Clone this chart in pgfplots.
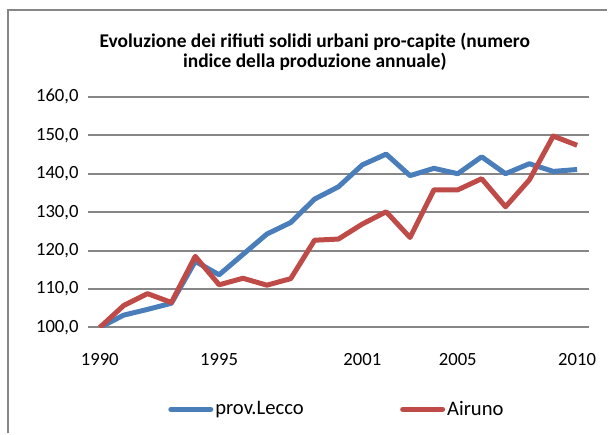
\documentclass[border=0pt]{standalone}
\usepackage{fontspec}
\setmainfont{Carlito}
\usepackage{pgfplots}
\pgfplotsset{compat=1.18}
\definecolor{exblue}{HTML}{4A7EBB}
\definecolor{exred}{HTML}{BE4B48}
\definecolor{gridgray}{HTML}{868686}
\begin{document}
\begin{tikzpicture}
\path (0,0) rectangle (456pt,325.5pt);
\draw[gridgray, line width=1.5pt] (6pt,0) -- (6pt,318pt) -- (456pt,318pt);
\node[font=\bfseries\fontsize{14.6}{15}\selectfont, align=center] at (236.5pt,286.5pt) {Evoluzione dei rifiuti solidi urbani pro-capite (numero\\indice della produzione annuale)};
\begin{axis}[
  at={(66pt,79.5pt)}, anchor=south west,
  scale only axis, width=376.5pt, height=173.25pt,
  xmin=1989.5, xmax=2010.5, ymin=100, ymax=160,
  xtick={1990,1995,2001,2005,2010},
  ytick={100,110,...,160},
  ymajorgrids, grid style={gridgray, line width=1.5pt},
  axis line style={draw=none},
  major tick length=0pt,
  tick label style={font=\fontsize{14}{16}\selectfont},
  /pgf/number format/assume math mode=true,
  xticklabel style={yshift=-16pt, /pgf/number format/1000 sep={}},
  yticklabel style={xshift=-3.5pt, /pgf/number format/fixed, /pgf/number format/fixed zerofill, /pgf/number format/precision=1, /pgf/number format/use comma, /pgf/number format/1000 sep={}},
  legend style={at={(0.497,-0.355)}, anchor=center, draw=none, legend columns=2,
    font=\fontsize{15.5}{17}\selectfont, nodes={inner sep=1.5pt},
    /tikz/every even column/.append style={column sep=71pt}},
  legend image code/.code={\draw[#1, line cap=round] (0pt,0pt) -- (30pt,0pt);},
  every axis plot/.append style={line width=3.75pt, line join=round, no markers},
]
\addplot[exblue] coordinates {
(1990,100.0) (1991,103.2) (1992,104.7) (1993,106.3) (1994,117.2) (1995,113.7)
(1996,119.0) (1997,124.3) (1998,127.3) (1999,133.4) (2000,136.6) (2001,142.3)
(2002,145.1) (2003,139.5) (2004,141.4) (2005,140.0) (2006,144.4) (2007,140.0)
(2008,142.6) (2009,140.6) (2010,141.1)
};
\addlegendentry{prov.Lecco}
\addplot[exred] coordinates {
(1990,100.0) (1991,105.7) (1992,108.8) (1993,106.5) (1994,118.5) (1995,111.1)
(1996,112.8) (1997,111.0) (1998,112.7) (1999,122.7) (2000,123.0) (2001,126.9)
(2002,130.1) (2003,123.4) (2004,135.8) (2005,135.8) (2006,138.7) (2007,131.4)
(2008,138.4) (2009,149.8) (2010,147.4)
};
\addlegendentry{Airuno}
\end{axis}
\end{tikzpicture}
\end{document}
